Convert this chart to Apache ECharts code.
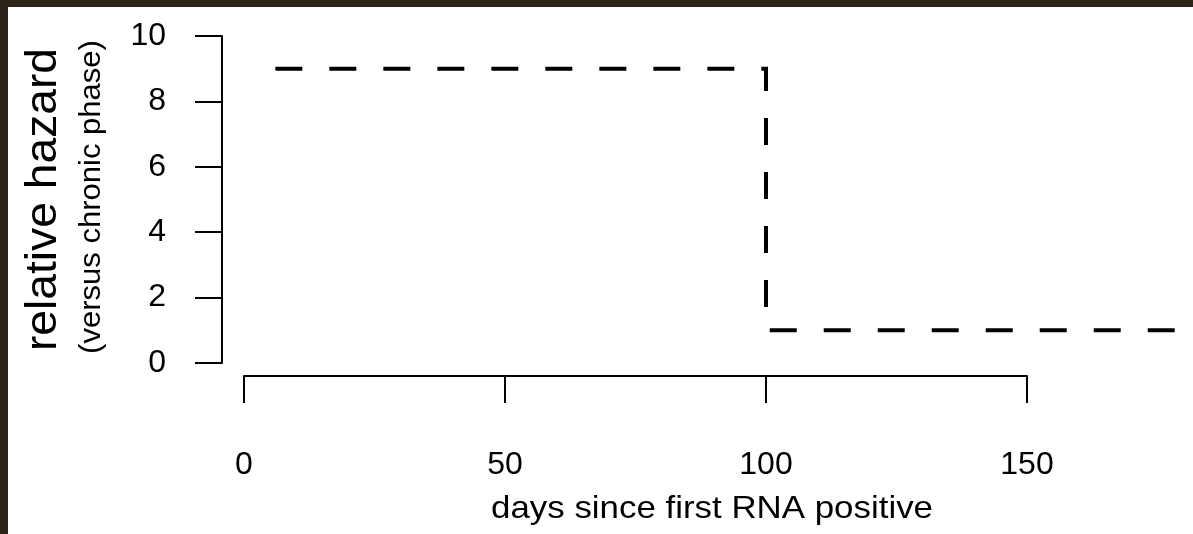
<!DOCTYPE html>
<html>
<head>
<meta charset="utf-8">
<script src="https://cdn.jsdelivr.net/npm/echarts@6/dist/echarts.min.js"></script>
<style>
  html, body { margin: 0; padding: 0; background: #ffffff; }
  #chart { width: 1193px; height: 534px; }
</style>
</head>
<body>
<div id="chart"></div>
<script>
// Data
var days = [6, 100, 100, 180];          // days since first RNA positive
var hazard = [9, 9, 1, 1];              // relative hazard (versus chronic phase)
var xTicks = [0, 50, 100, 150];
var yTicks = [0, 2, 4, 6, 8, 10];
var xDataMax = 180;
var xTitle = 'days since first RNA positive';
var yTitle = 'relative hazard';
var ySubTitle = '(versus chronic phase)';

var FONT = '"Liberation Sans", Arial, Helvetica, sans-serif';
var INK = '#000000';
var FRAME = '#2a2418';

var points = days.map(function (d, i) { return [d, hazard[i]]; });

// geometry
var X0 = 244, Y0 = 363, TOP = 36;
var PX_PER_DAY = 783 / 150;
var H = Y0 - TOP;

function axisCommon() {
  return {
    axisLine: { show: true, lineStyle: { color: INK, width: 2 } },
    axisTick: { show: true, length: 27, lineStyle: { color: INK, width: 2 } },
    splitLine: { show: false }
  };
}

var yShown = Object.assign({
  type: 'value', gridIndex: 1,
  min: yTicks[0], max: yTicks[yTicks.length - 1], interval: 2,
  axisLabel: { margin: 56, fontSize: 32, color: INK, fontFamily: FONT }
}, axisCommon());

var xShown = Object.assign({
  type: 'value', gridIndex: 2,
  min: xTicks[0], max: xTicks[xTicks.length - 1], interval: 50,
  axisLabel: { margin: 73, fontSize: 32, color: INK, fontFamily: FONT }
}, axisCommon());

var chart = echarts.init(document.getElementById('chart'), null, { renderer: 'canvas' });
chart.setOption({
  animation: false,
  backgroundColor: '#ffffff',
  grid: [
    // data grid
    { left: X0, top: TOP, width: PX_PER_DAY * xDataMax, height: H, containLabel: false },
    // y axis display grid (axis detached 22px to the left)
    { left: X0 - 22, top: TOP, width: 783, height: H, containLabel: false },
    // x axis display grid (axis detached 13px below)
    { left: X0, top: TOP + 13, width: 783, height: H, containLabel: false }
  ],
  xAxis: [
    { type: 'value', gridIndex: 0, min: 0, max: xDataMax, show: false },
    { type: 'value', gridIndex: 1, min: 0, max: 150, show: false },
    xShown
  ],
  yAxis: [
    { type: 'value', gridIndex: 0, min: yTicks[0], max: yTicks[yTicks.length - 1], show: false },
    yShown,
    { type: 'value', gridIndex: 2, min: 0, max: 10, show: false }
  ],
  series: [{
    type: 'line',
    xAxisIndex: 0, yAxisIndex: 0,
    data: points,
    symbol: 'none',
    clip: false,
    lineStyle: { color: INK, width: 4, type: [27, 27], dashOffset: 0, cap: 'butt', join: 'miter' }
  }],
  graphic: [
    { type: 'rect', shape: { x: 0, y: 0, width: 1193, height: 7 }, style: { fill: FRAME }, z: 100 },
    { type: 'rect', shape: { x: 0, y: 0, width: 8, height: 534 }, style: { fill: FRAME }, z: 100 },
    {
      type: 'text', x: 44, y: 199.5, rotation: Math.PI / 2, scaleX: 1.05,
      style: { text: yTitle, fontSize: 44, fontFamily: FONT, fill: INK, align: 'center', verticalAlign: 'middle' }
    },
    {
      type: 'text', x: 92, y: 197, rotation: Math.PI / 2, scaleX: 1.07,
      style: { text: ySubTitle, fontSize: 29, fontFamily: FONT, fill: INK, align: 'center', verticalAlign: 'middle' }
    },
    {
      type: 'text', x: 712, y: 509, scaleX: 1.09,
      style: { text: xTitle, fontSize: 32, fontFamily: FONT, fill: INK, align: 'center', verticalAlign: 'middle' }
    }
  ]
});
</script>
</body>
</html>
